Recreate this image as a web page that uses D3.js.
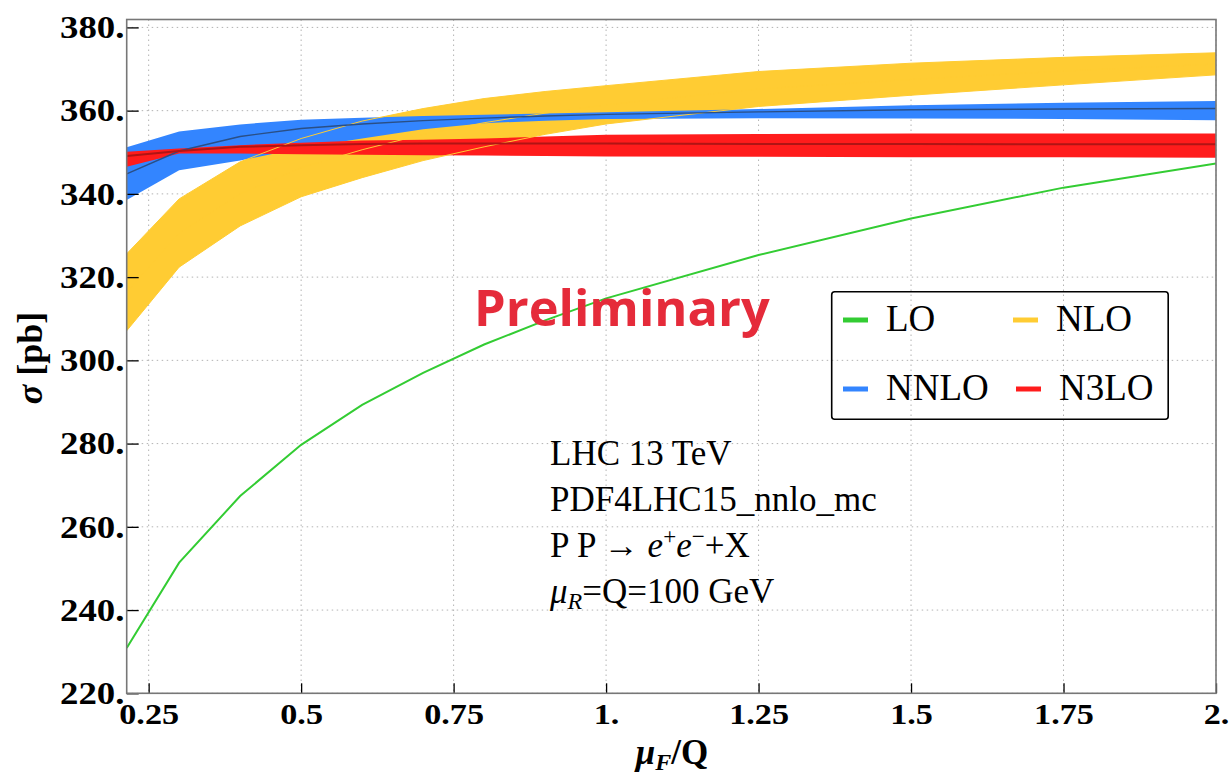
<!DOCTYPE html>
<html>
<head>
<meta charset="utf-8">
<script src="https://cdn.jsdelivr.net/npm/d3@7"></script>
<style>
  html, body { margin: 0; padding: 0; background: #fff; }
  svg { display: block; }
</style>
</head>
<body>
<svg id="chart" width="1230" height="778"></svg>
<script>
// ---------------- data ----------------
const muValues    = [0.214, 0.3, 0.4, 0.5, 0.6, 0.7, 0.8, 0.9, 1.0, 1.25, 1.5, 1.75, 2.0];
const loValues    = [230.9, 251.4, 267.4, 279.7, 289.3, 297.0, 303.8, 309.6, 314.9, 325.3, 334.1, 341.5, 347.3];
const nloLow      = [307.1, 322.4, 332.3, 339.3, 343.9, 348.0, 351.3, 354.3, 356.8, 361.0, 363.7, 366.2, 368.6];
const nloHigh     = [325.6, 338.8, 347.7, 353.3, 357.5, 360.5, 362.9, 364.6, 366.0, 369.4, 371.4, 372.8, 373.9];
const nloCentral  = [316.4, 330.6, 340.0, 346.3, 350.6, 354.3, 357.1, 359.4, 361.4, 365.2, 367.5, 369.5, 371.2];
const nnloLow     = [338.5, 345.7, 348.0, 351.0, 353.3, 355.5, 357.0, 357.6, 358.0, 358.2, 358.1, 358.0, 357.7];
const nnloHigh    = [351.2, 355.0, 356.7, 357.8, 358.3, 358.7, 359.0, 359.3, 359.6, 360.4, 361.3, 361.9, 362.3];
const nnloCentral = [344.8, 350.3, 353.8, 355.7, 356.8, 357.6, 358.2, 358.7, 359.1, 359.7, 360.2, 360.4, 360.5];
const n3loLow     = [346.5, 349.7, 349.7, 349.5, 349.4, 349.3, 349.2, 349.1, 349.0, 348.9, 348.8, 348.8, 348.7];
const n3loHigh    = [350.1, 350.9, 351.7, 352.3, 352.8, 353.0, 353.3, 353.8, 354.2, 354.4, 354.5, 354.5, 354.5];
const n3loCentral = [349.1, 350.3, 351.3, 351.7, 352.0, 352.1, 352.1, 352.1, 352.1, 352.0, 352.0, 351.9, 351.9];

const xTicks      = [0.25, 0.5, 0.75, 1.0, 1.25, 1.5, 1.75, 2.0];
const xTickLabels = ["0.25", "0.5", "0.75", "1.", "1.25", "1.5", "1.75", "2."];
const yTicks      = [220, 240, 260, 280, 300, 320, 340, 360, 380];
const yTickLabels = ["220.", "240.", "260.", "280.", "300.", "320.", "340.", "360.", "380."];

const legendLabels = ["LO", "NLO", "NNLO", "N3LO"];
const legendColors = ["#33cc33", "#ffcc33", "#3385ff", "#ff1c1c"];

const infoLines = ["LHC 13 TeV", "PDF4LHC15_nnlo_mc"];

// ---------------- layout ----------------
const L = 126.7, R = 1216, T = 19.5, B = 693.3;
const serif = "'Liberation Serif', 'Times New Roman', serif";

const svg = d3.select("#chart");
const x = d3.scaleLinear().domain([0.214, 2.0]).range([L, R]);
const y = d3.scaleLinear().domain([220, 381.9]).range([B, T]);

svg.append("defs").append("clipPath").attr("id", "clip")
  .append("rect").attr("x", L).attr("y", T).attr("width", R - L).attr("height", B - T);

// grid
const grid = svg.append("g").attr("stroke", "#b3b3b3").attr("stroke-width", 1)
  .attr("stroke-dasharray", "1.5,3.5");
grid.selectAll("line.vx").data(xTicks).join("line")
  .attr("x1", d => x(d)).attr("x2", d => x(d)).attr("y1", T).attr("y2", B);
grid.selectAll("line.hy").data(yTicks).join("line")
  .attr("y1", d => y(d)).attr("y2", d => y(d)).attr("x1", L).attr("x2", R);

const pts = (lowArr, highArr) => muValues.map((m, i) => ({m, lo: lowArr[i], hi: highArr[i]}));
const area = d3.area().x(d => x(d.m)).y0(d => y(d.lo)).y1(d => y(d.hi));
const line = d3.line().x(d => x(d[0])).y(d => y(d[1]));
const series = arr => muValues.map((m, i) => [m, arr[i]]);

const plot = svg.append("g").attr("clip-path", "url(#clip)");

// bands
plot.append("path").attr("d", area(pts(nloLow, nloHigh))).attr("fill", "#ffcc33");
plot.append("path").attr("d", area(pts(nnloLow, nnloHigh))).attr("fill", "#3385ff");
plot.append("path").attr("d", area(pts(n3loLow, n3loHigh))).attr("fill", "#ff1c1c");

// thin NLO curves (visible over other bands)
[nloLow, nloCentral, nloHigh].forEach(arr => {
  plot.append("path").attr("d", line(series(arr)))
    .attr("fill", "none").attr("stroke", "#ffcc33").attr("stroke-width", 1);
});
// central lines
plot.append("path").attr("d", line(series(nnloCentral)))
  .attr("fill", "none").attr("stroke", "#2a4f86").attr("stroke-width", 1.4);
plot.append("path").attr("d", line(series(n3loCentral)))
  .attr("fill", "none").attr("stroke", "#b01414").attr("stroke-width", 2);
// LO
plot.append("path").attr("d", line(series(loValues)))
  .attr("fill", "none").attr("stroke", "#33cc33").attr("stroke-width", 2);

// axes
const yAxis = d3.axisLeft(y).tickValues(yTicks).tickSize(-12).tickPadding(2)
  .tickFormat((d, i) => yTickLabels[i]);
const gy = svg.append("g").attr("transform", `translate(${L},0)`).call(yAxis);
gy.select(".domain").remove();
gy.selectAll(".tick line").attr("stroke", "#000").attr("stroke-width", 1.3);
gy.selectAll(".tick text").attr("font-family", serif).attr("font-weight", "bold")
  .attr("font-size", 32).attr("fill", "#000").attr("transform", "scale(1.15,1)");

const xAxis = d3.axisBottom(x).tickValues(xTicks).tickSize(-10).tickPadding(9)
  .tickFormat((d, i) => xTickLabels[i]);
const gx = svg.append("g").attr("transform", `translate(0,${B})`).call(xAxis);
gx.select(".domain").remove();
gx.selectAll(".tick line").attr("stroke", "#000").attr("stroke-width", 1.3);
gx.selectAll(".tick text").attr("font-family", serif).attr("font-weight", "bold")
  .attr("font-size", 30).attr("fill", "#000").attr("transform", "scale(1.14,1)");

// frame
svg.append("rect").attr("x", L).attr("y", T).attr("width", R - L).attr("height", B - T)
  .attr("fill", "none").attr("stroke", "#777").attr("stroke-width", 1.6);

// axis titles
const yt = svg.append("text").attr("transform", "translate(42,358) rotate(-90)")
  .attr("text-anchor", "middle").attr("font-family", serif).attr("font-weight", "bold")
  .attr("font-size", 36).attr("fill", "#000");
yt.append("tspan").attr("font-style", "italic").text("σ");
yt.append("tspan").text(" [pb]");

const xt = svg.append("text").attr("x", 672).attr("y", 764)
  .attr("text-anchor", "middle").attr("font-family", serif).attr("font-weight", "bold")
  .attr("font-size", 35).attr("fill", "#000");
xt.append("tspan").attr("font-style", "italic").text("μ");
xt.append("tspan").attr("font-style", "italic").attr("font-size", 24).attr("dy", 6).text("F");
xt.append("tspan").attr("dy", -6).text("/Q");

// Preliminary
svg.append("text").attr("x", 474).attr("y", 326)
  .attr("font-family", "'Open Sans', 'Liberation Sans', sans-serif").attr("font-weight", "bold")
  .attr("font-size", 50.5).attr("fill", "#e52b3a").text("Preliminary");

// info text
const info = svg.append("g").attr("font-family", serif).attr("font-size", 35).attr("fill", "#000");
infoLines.forEach((t, i) => {
  info.append("text").attr("x", 550).attr("y", 465 + i * 46).text(t);
});
const t3 = info.append("text").attr("x", 550).attr("y", 557);
t3.append("tspan").text("P P → ");
t3.append("tspan").attr("font-style", "italic").text("e");
t3.append("tspan").attr("font-size", 23).attr("dy", -13).text("+");
t3.append("tspan").attr("font-style", "italic").attr("dy", 13).text("e");
t3.append("tspan").attr("font-size", 23).attr("dy", -13).text("−");
t3.append("tspan").attr("dy", 13).text("+X");
const t4 = info.append("text").attr("x", 550).attr("y", 603);
t4.append("tspan").attr("font-style", "italic").text("μ");
t4.append("tspan").attr("font-style", "italic").attr("font-size", 24).attr("dy", 6).text("R");
t4.append("tspan").attr("dy", -6).text("=Q=100 GeV");

// legend
const lg = svg.append("g");
lg.append("rect").attr("x", 831.7).attr("y", 291.7).attr("width", 336.5).attr("height", 127.5)
  .attr("rx", 3).attr("fill", "none").attr("stroke", "#000").attr("stroke-width", 1.6);
const legPos = [[843, 320], [1013, 320], [843, 389], [1016, 389]];
legendLabels.forEach((lab, i) => {
  const [lx, ly] = legPos[i];
  lg.append("line").attr("x1", lx).attr("x2", lx + 25).attr("y1", ly).attr("y2", ly)
    .attr("stroke", legendColors[i]).attr("stroke-width", 5);
  lg.append("text").attr("x", lx + 43).attr("y", ly + 11)
    .attr("font-family", serif).attr("font-size", 37).attr("fill", "#000").text(lab);
});
</script>
</body>
</html>
